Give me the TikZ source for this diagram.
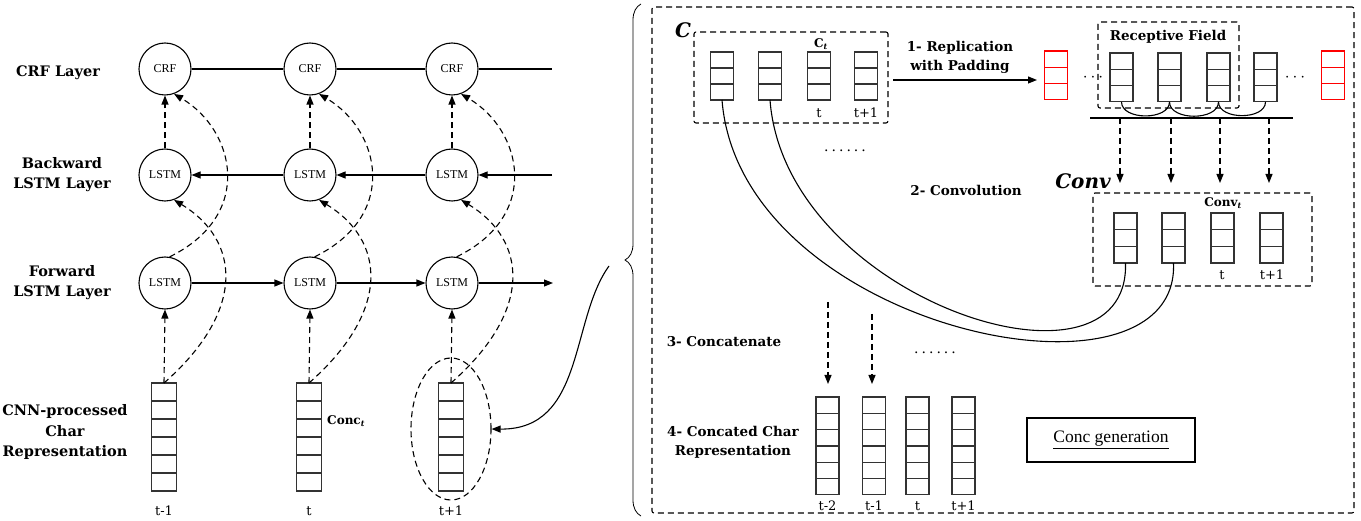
\documentclass[tikz,border=0pt]{standalone}
\usepackage{fontspec}
\setmainfont{DejaVu Serif}
\newfontfamily\tnr{Liberation Serif}
\usetikzlibrary{arrows.meta,shapes.geometric,decorations.pathreplacing,calc}
\tikzset{
 lab/.style={font=\fontsize{14.5}{20}\selectfont\bfseries, align=center, inner sep=0},
 rlab/.style={font=\fontsize{13.5}{19}\selectfont\bfseries, align=center, inner sep=0},
 sublab/.style={font=\fontsize{12}{14}\selectfont\bfseries, inner sep=0},
 tlab/.style={font=\fontsize{13}{15}\selectfont, inner sep=0},
 big/.style={font=\fontsize{20}{22}\selectfont\bfseries\itshape, inner sep=0},
 unit/.style={circle, draw, line width=1.1pt, minimum size=52pt, inner sep=0, font=\tnr\fontsize{12}{14}\selectfont},
 vbox/.style={draw=black!80, line width=1.2pt, inner sep=0, outer sep=0},
 plain/.style={line width=1.1pt},
 arr/.style={-{Triangle[length=9pt,width=7pt]}, line width=1.1pt},
 dsh/.style={dash pattern=on 6pt off 4pt},
 darr/.style={arr, dsh},
 dbox/.style={draw, dsh, line width=1.1pt, rounded corners=2pt, inner sep=0},
 dotsl/.style={font=\fontsize{14}{16}\selectfont, inner sep=0},
}
\newcommand{\cvec}[7]{%
 \node[vbox,#7,minimum width=#6pt,minimum height=#4*#5pt,anchor=north] (#1) at (#2,#3) {};
 \foreach \k in {1,...,#4}{\ifnum\k<#4\relax \draw[vbox,#7] ($(#1.north west)+(0,\k*#5)$) -- ($(#1.north east)+(0,\k*#5)$);\fi}%
}
\begin{document}
\begin{tikzpicture}[x=1pt,y=-1pt]
\useasboundingbox (0,0) rectangle (1361,521);

% ---------- left panel ----------
\node[lab] (lcrf) at (58,73) {CRF Layer};
\node[lab] (lbwd) at (62,175) {Backward\\LSTM Layer};
\node[lab] (lfwd) at (62,283) {Forward\\LSTM Layer};
\node[lab] (lcnn) at (65,432) {CNN-processed\\Char\\Representation};

\foreach \i/\X in {1/165,2/310,3/452}{
 \node[unit] (crf\i) at (\X,69) {CRF};
 \node[unit] (bwd\i) at (\X,175) {LSTM};
 \node[unit] (fwd\i) at (\X,283) {LSTM};
}
\cvec{cnn1}{164}{383}{6}{18}{25}{}
\cvec{cnn2}{309}{383}{6}{18}{25}{}
\cvec{cnn3}{451}{383}{6}{18}{25}{}

\node[tlab] (t1) at (164,511) {t-1};
\node[tlab] (t2) at (309,511) {t};
\node[tlab] (t3) at (451,511) {t+1};
\node[sublab, anchor=west] (conct) at (327,421) {Conc\textsubscript{\itshape t}};

\node[ellipse, draw, dsh, line width=1.1pt, minimum width=80pt, minimum height=142pt] (ell) at (451,429) {};

\coordinate (crfend) at (552,69);
\draw[plain] (crf1) -- (crf2);
\draw[plain] (crf2) -- (crf3);
\draw[plain] (crf3) -- (crfend);
\coordinate (bwdstart) at (552,175);
\draw[arr] (bwdstart) -- (bwd3);
\draw[arr] (bwd3) -- (bwd2);
\draw[arr] (bwd2) -- (bwd1);
\coordinate (fwdend) at (553,283);
\draw[arr] (fwd1) -- (fwd2);
\draw[arr] (fwd2) -- (fwd3);
\draw[arr] (fwd3) -- (fwdend);

\foreach \i in {1,2,3}{
 \draw[darr] (cnn\i.north) -- (fwd\i.south);
 \draw[darr] (bwd\i.north) -- (crf\i.south);
 \draw[darr] (cnn\i.north) .. controls ($(cnn\i.north)+(83,-73)$) and ($(bwd\i.center)+(75,65)$) .. (bwd\i.-70);
 \draw[darr] (fwd\i.80) .. controls ($(fwd\i.center)+(90,-68)$) and ($(crf\i.center)+(70,61)$) .. (crf\i.-70);
}

% ---------- link and brace ----------
\coordinate (lnk) at (609,266);
\draw[arr] (lnk) .. controls (570,320) and (585,430) .. (ell.east);
\draw[decorate, decoration={brace, amplitude=16pt}, line width=0.8pt] (641,516) -- (641,4);

% ---------- right panel ----------
\node[dbox, minimum width=702pt, minimum height=506pt] (outer) at (1003,260) {};

\node[big] (bigc) at (683,30) {C};
\node[dbox, minimum width=194pt, minimum height=91pt] (cbox) at (791,77.5) {};
\cvec{cv1}{722}{52}{3}{16}{23}{}
\cvec{cv2}{770}{52}{3}{16}{23}{}
\cvec{cv3}{819}{52}{3}{16}{23}{}
\cvec{cv4}{866}{52}{3}{16}{23}{}
\node[sublab] (ct) at (821,44) {C\textsubscript{\itshape t}};
\node[tlab] (ct1) at (819,113) {t};
\node[tlab] (ct2) at (866,113) {t+1};

\node[rlab] (rep) at (960,57) {1- Replication\\with Padding};
\coordinate (repstart) at (893,80);
\coordinate (repend) at (1037,80);
\draw[arr] (repstart) -- (repend);

\cvec{red1}{1056}{51}{3}{16.3}{23}{draw=red}
\cvec{red2}{1333}{51}{3}{16.3}{23}{draw=red}
\node[font=\fontsize{18}{20}\selectfont, inner sep=0] (dl) at (1093,78) {$\cdots$};
\node[font=\fontsize{18}{20}\selectfont, inner sep=0] (dr) at (1295,78) {$\cdots$};

\node[dbox, minimum width=141pt, minimum height=86pt] (rf) at (1168.5,65) {};
\node[rlab] (rft) at (1168,37) {Receptive Field};
\cvec{bv1}{1121.5}{53}{3}{16.3}{23}{}
\cvec{bv2}{1169.5}{53}{3}{16.3}{23}{}
\cvec{bv3}{1218.5}{53}{3}{16.3}{23}{}
\cvec{bv4}{1265.5}{53}{3}{16.3}{23}{}
\draw[plain] (bv1.south) to[out=-90,in=-90] (bv2.south);
\draw[plain] (bv2.south) to[out=-90,in=-90] (bv3.south);
\draw[plain] (bv3.south) to[out=-90,in=-90] (bv4.south);
\coordinate (bl) at (1090,118);
\coordinate (br) at (1293,118);
\draw[plain] (bl) -- (br);
\foreach \j/\xx in {1/1120,2/1171,3/1220,4/1269}{
 \coordinate (ds\j) at (\xx,118);
 \coordinate (de\j) at (\xx,183);
 \draw[darr] (ds\j) -- (de\j);
}

\node[dotsl] (dots1) at (845,151) {.\hspace{3pt}.\hspace{3pt}.\hspace{3pt}.\hspace{3pt}.\hspace{3pt}.};
\node[rlab] (conv) at (966,190) {2- Convolution};
\node[big] (bigconv) at (1083,181) {Conv};
\node[dbox, minimum width=219pt, minimum height=93pt] (convbox) at (1202.5,239.5) {};
\node[sublab] (convt) at (1223,203) {Conv\textsubscript{\itshape t}};
\cvec{cn1}{1125.5}{213}{3}{16.7}{23}{}
\cvec{cn2}{1173.5}{213}{3}{16.7}{23}{}
\cvec{cn3}{1222.5}{213}{3}{16.7}{23}{}
\cvec{cn4}{1271.5}{213}{3}{16.7}{23}{}
\node[tlab] (cnt1) at (1222,275) {t};
\node[tlab] (cnt2) at (1272,275) {t+1};

\draw[plain] (cv1.south) .. controls (740,330) and (1180,420) .. (cn2.south);
\draw[plain] (cv2.south) .. controls (785,300) and (1130,410) .. (cn1.south);

\node[rlab] (cat) at (724,342) {3- Concatenate};
\coordinate (ca1) at (828,302);
\coordinate (cb1) at (828,384);
\coordinate (ca2) at (872,314);
\coordinate (cb2) at (872,384);
\draw[darr] (ca1) -- (cb1);
\draw[darr] (ca2) -- (cb2);
\node[dotsl] (dots2) at (935,353) {.\hspace{3pt}.\hspace{3pt}.\hspace{3pt}.\hspace{3pt}.\hspace{3pt}.};

\node[rlab] (ccr) at (733,442) {4- Concated Char\\Representation};
\cvec{cc1}{827.5}{397}{6}{16.3}{23}{}
\cvec{cc2}{874}{397}{6}{16.3}{23}{}
\cvec{cc3}{917.5}{397}{6}{16.3}{23}{}
\cvec{cc4}{963.5}{397}{6}{16.3}{23}{}
\node[tlab] (ccl1) at (827.5,506) {t-2};
\node[tlab] (ccl2) at (874,506) {t-1};
\node[tlab] (ccl3) at (917.5,506) {t};
\node[tlab] (ccl4) at (963.5,506) {t+1};

\node[draw, line width=1.2pt, minimum width=168pt, minimum height=44pt, font=\tnr\fontsize{17.5}{20}\selectfont] (gen) at (1111,440) {\underline{Conc generation}};
\end{tikzpicture}
\end{document}
